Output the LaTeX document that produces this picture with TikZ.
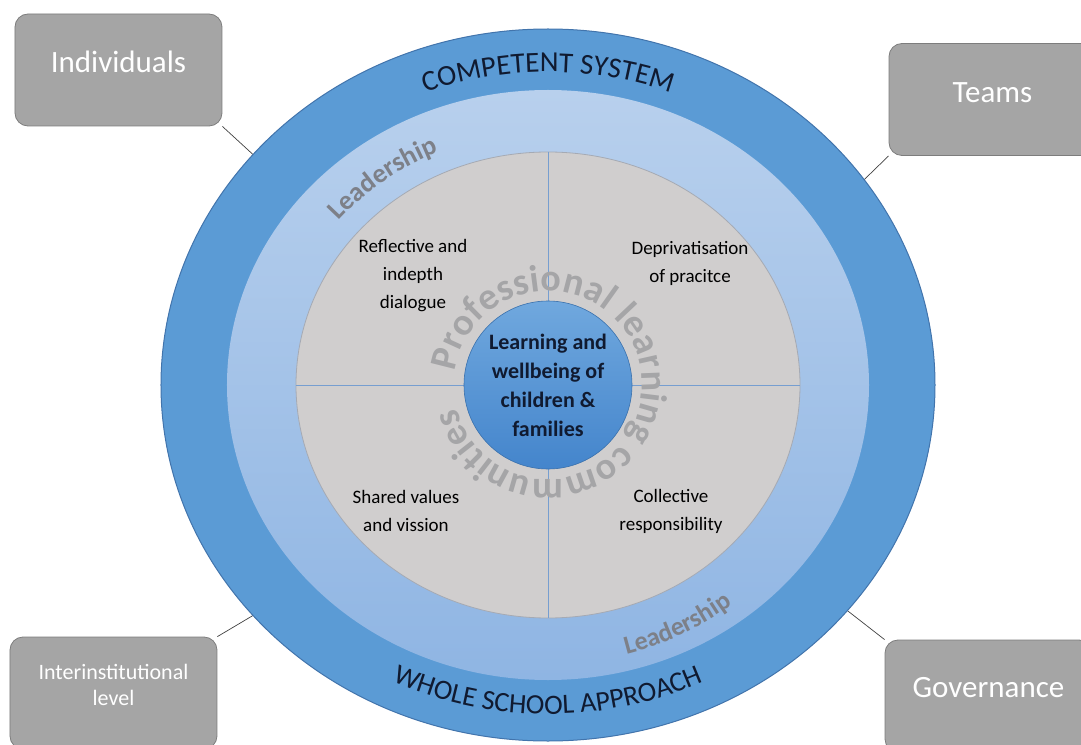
\documentclass[tikz,border=0pt]{standalone}
\usepackage{fontspec}
\setmainfont{Carlito}
\usetikzlibrary{shapes.geometric,decorations.text,backgrounds}
\definecolor{ringblue}{RGB}{91,155,213}
\definecolor{ringedge}{RGB}{66,116,172}
\definecolor{midtop}{RGB}{184,208,237}
\definecolor{midbot}{RGB}{143,181,227}
\definecolor{plcgrey}{RGB}{208,206,206}
\definecolor{plcedge}{RGB}{165,170,180}
\definecolor{coretop}{RGB}{112,168,222}
\definecolor{corebot}{RGB}{68,133,204}
\definecolor{boxgrey}{RGB}{165,165,165}
\definecolor{boxedge}{RGB}{125,125,125}
\definecolor{navy}{RGB}{16,26,48}
\definecolor{leadgrey}{RGB}{125,128,136}
\definecolor{plctext}{RGB}{165,165,167}
\definecolor{splitblue}{RGB}{118,158,208}
\tikzset{
  level/.style={rectangle, rounded corners=13pt, fill=boxgrey, draw=boxedge,
    line width=0.8pt, minimum width=207pt, minimum height=112pt},
  leveltext/.style={text=white, align=center},
  link/.style={draw=black!75, line width=0.7pt},
  ring/.style={ellipse, inner sep=0pt, outer sep=0pt},
  quadtext/.style={align=center, font=\fontsize{19}{28}\selectfont},
  splitline/.style={draw=splitblue, line width=0.8pt},
}

\begin{document}
\begin{tikzpicture}[x=1pt,y=1pt]
  \useasboundingbox (-548,-359) rectangle (533,385);
  % the rings
  \node[ring, fill=ringblue, draw=ringedge, line width=1pt,
        minimum width=774pt, minimum height=712pt] (system) at (0,0) {};
  \node[ring, top color=midtop, bottom color=midbot,
        minimum width=642pt, minimum height=590pt] (lead) at (0,0) {};
  \node[ring, fill=plcgrey, draw=plcedge, line width=0.8pt,
        minimum width=504pt, minimum height=466pt] (plc) at (0,0) {};
  \draw[splitline] (plc.north) -- (plc.south);
  \draw[splitline] (plc.west) -- (plc.east);
  \node[circle, inner sep=0pt, top color=coretop, bottom color=corebot,
        draw=corebot!85!black, line width=0.6pt, minimum size=168pt] (core) at (0,0) {};

  % curved labels
  \path[decorate, decoration={text along path, text align=center, text color=navy,
        text={|\fontsize{29}{29}\selectfont|COMPETENT SYSTEM}}]
    (125:344 and 313) arc[start angle=125, end angle=55, x radius=344, y radius=313];
  \path[decorate, decoration={text along path, text align=center, text color=navy,
        text={|\fontsize{28}{28}\selectfont|WHOLE SCHOOL APPROACH}}]
    (235:360 and 329) arc[start angle=235, end angle=305, x radius=360, y radius=329];
  \path[decorate, decoration={text along path, text align=center, text color=leadgrey,
        text={|\fontsize{27}{27}\selectfont\bfseries|Leadership}}]
    (157:274 and 254) arc[start angle=157, end angle=97, x radius=274, y radius=254];
  \path[decorate, decoration={text along path, text align=center, text color=leadgrey,
        text={|\fontsize{26}{26}\selectfont\bfseries|Leadership}}]
    (-93:299 and 279) arc[start angle=-93, end angle=-33, x radius=299, y radius=279];
  \path[decorate, decoration={text along path, text align={fit to path}, text color=plctext,
        text={|\fontsize{38}{38}\selectfont\bfseries|Professional learning communities}}]
    (172:94) arc[start angle=172, end angle=-166, radius=94];

  % quadrants
  \node[quadtext] (reflect) at (-135,109) {Reflective and\\indepth\\dialogue};
  \node[quadtext] (depriv) at (142,122) {Deprivatisation\\of pracitce};
  \node[quadtext] (shared) at (-142,-126) {Shared values\\and vission};
  \node[quadtext] (collect) at (123,-126) {Collective\\responsibility};
  \node[align=center, text=navy, font=\fontsize{22}{29}\selectfont\bfseries]
    (coretext) at (core) {Learning and\\wellbeing of\\children \&\\families};

  % levels
  \node[level] (indiv) at (-429.5,315) {};
  \node[level] (teams) at (444.5,285.5) {};
  \node[level] (inter) at (-434.5,-308) {};
  \node[level] (gov) at (440.5,-311) {};
  \node[leveltext, font=\fontsize{31}{31}\selectfont] at ([yshift=8pt]indiv.center) {Individuals};
  \node[leveltext, font=\fontsize{31}{31}\selectfont] at ([yshift=7pt]teams.center) {Teams};
  \node[leveltext, font=\fontsize{22}{26}\selectfont] at ([yshift=8pt]inter.center) {Interinstitutional\\level};
  \node[leveltext, font=\fontsize{31}{31}\selectfont] at ([yshift=8pt]gov.center) {Governance};

  \begin{scope}[on background layer]
    \draw[link] (indiv.south east) -- (system.142);
    \draw[link] (teams.south west) -- (system.33);
    \draw[link] (inter.north east) -- (system.218);
    \draw[link] (gov.north west) -- (system.323);
  \end{scope}
\end{tikzpicture}
\end{document}
